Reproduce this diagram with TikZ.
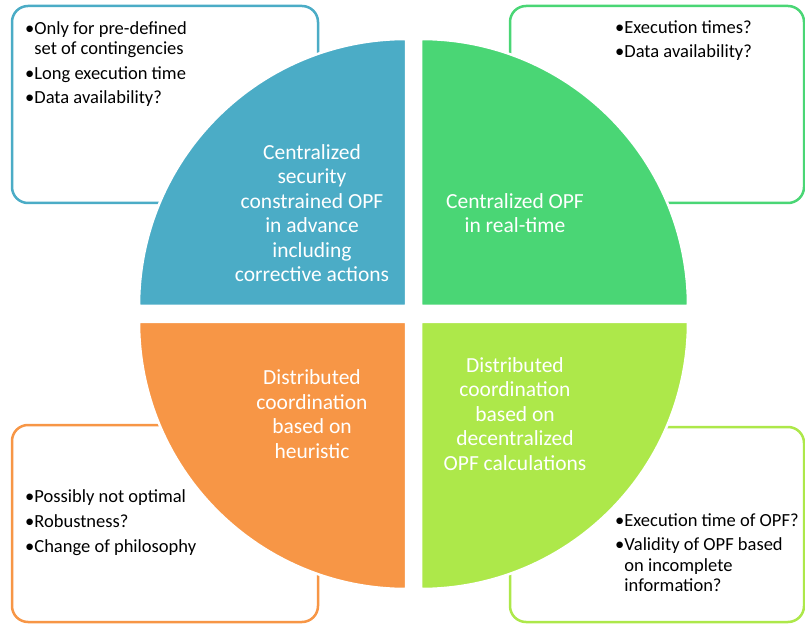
\documentclass[tikz,border=0pt]{standalone}
\usepackage{fontspec}
\setmainfont{Carlito}
\definecolor{qblue}{RGB}{75,172,198}
\definecolor{qgreen}{RGB}{74,214,117}
\definecolor{qlime}{RGB}{173,232,74}
\definecolor{qorange}{RGB}{247,150,70}
\newcommand\qradius{267}
% one quarter of the disc: corner x, corner y, start angle, colour
\newcommand\quarter[4]{
    \fill[fill=#4, draw=white, line width=2.5pt] (#1,#2) -- ++(#3:\qradius)
    arc[start angle=#3, delta angle=90, radius=\qradius] -- cycle;
}
% rounded note box behind the disc
\newcommand\notebox[5]{
    \draw[draw=#5, line width=2.5pt, fill=white, rounded corners=16pt] (#1,#2) rectangle (#3,#4);
}
\newcommand\gap{\phantom{\textbullet}}
\tikzset{
    quartertext/.style={text=white, align=center, inner sep=0pt,
        font=\fontsize{21.5}{24.5}\selectfont},
    notetext/.style={anchor=north west, align=left, inner sep=0pt,
        font=\fontsize{18.5}{20.5}\selectfont}
}
\begin{document}
\begin{tikzpicture}[x=1pt, y=1pt]
    \useasboundingbox (0,0) rectangle (805,624);
    \notebox{12}{421}{318}{618}{qblue}
    \notebox{510}{421}{804}{618}{qgreen}
    \notebox{12}{2}{318}{199}{qorange}
    \notebox{510}{2}{804}{197}{qlime}
    \quarter{406}{318}{90}{qblue}
    \quarter{421}{318}{0}{qgreen}
    \quarter{406}{302}{180}{qorange}
    \quarter{421}{302}{270}{qlime}
    \node[quartertext] (csc) at (312,411) {Centralized\\security\\constrained OPF\\in advance\\including\\corrective actions};
    \node[quartertext] (crt) at (515,411) {Centralized OPF\\in real-time};
    \node[quartertext] (dh) at (312,210) {Distributed\\coordination\\based on\\heuristic};
    \node[quartertext] (dopf) at (515,210) {Distributed\\coordination\\based on\\decentralized\\OPF calculations};
    \node[notetext] (ncsc) at (25,603) {\textbullet Only for pre-defined\\\gap set of contingencies\\[4.5pt]\textbullet Long execution time\\[3.5pt]\textbullet Data availability?};
    \node[notetext] (ncrt) at (615,603) {\textbullet Execution times?\\[3.5pt]\textbullet Data availability?};
    \node[notetext] (ndh) at (25,135) {\textbullet Possibly not optimal\\[4.5pt]\textbullet Robustness?\\[4.5pt]\textbullet Change of philosophy};
    \node[notetext] (ndopf) at (615,110) {\textbullet Execution time of OPF?\\[3.5pt]\textbullet Validity of OPF based\\\gap on incomplete\\\gap information?};
\end{tikzpicture}
\end{document}
